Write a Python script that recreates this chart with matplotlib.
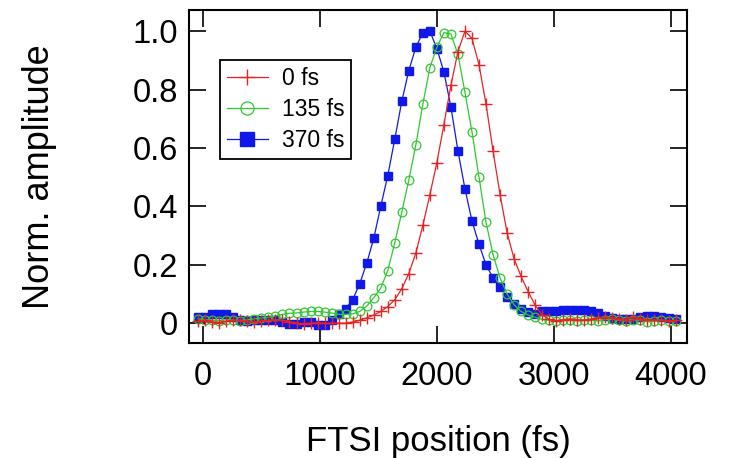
import matplotlib
matplotlib.use('Agg')
import matplotlib.pyplot as plt
from matplotlib.ticker import FixedLocator, FuncFormatter

plt.rcParams['font.family'] = ['Liberation Sans', 'DejaVu Sans']

# FTSI position (fs), sampling grid of the three traces
position = [-40, 20, 80, 140, 200, 260, 320, 380, 440, 500,
            560, 620, 680, 740, 800, 860, 920, 980, 1040, 1100,
            1160, 1220, 1280, 1340, 1400, 1460, 1520, 1580, 1640, 1700,
            1760, 1820, 1880, 1940, 2000, 2060, 2120, 2180, 2240, 2300,
            2360, 2420, 2480, 2540, 2600, 2660, 2720, 2780, 2840, 2900,
            2960, 3020, 3080, 3140, 3200, 3260, 3320, 3380, 3440, 3500,
            3560, 3620, 3680, 3740, 3800, 3860, 3920, 3980, 4040]

# normalised amplitude, delay 0 fs
amp_0fs = [0.008, 0.010, 0.005, 0.002, 0.006, 0.012, 0.010, 0.006, 0.003, 0.008,
           0.010, 0.012, 0.010, 0.005, 0.000, -0.002, 0.000, 0.002, -0.001, 0.000,
           0.000, 0.000, 0.004, 0.010, 0.018, 0.028, 0.040, 0.057, 0.080, 0.118,
           0.170, 0.240, 0.335, 0.440, 0.550, 0.680, 0.815, 0.930, 1.000, 0.975,
           0.885, 0.750, 0.590, 0.440, 0.310, 0.220, 0.160, 0.108, 0.062, 0.028,
           0.013, 0.008, 0.012, 0.015, 0.012, 0.010, 0.015, 0.018, 0.020, 0.018,
           0.015, 0.012, 0.020, 0.015, 0.012, 0.010, 0.012, 0.008, 0.010]

# delay 135 fs
amp_135fs = [0.015, 0.012, 0.010, 0.008, 0.012, 0.010, 0.008, 0.012, 0.015, 0.018,
             0.020, 0.025, 0.030, 0.034, 0.035, 0.038, 0.040, 0.040, 0.038, 0.035,
             0.030, 0.030, 0.032, 0.040, 0.058, 0.087, 0.120, 0.180, 0.275, 0.380,
             0.490, 0.610, 0.750, 0.875, 0.945, 0.995, 0.990, 0.920, 0.790, 0.655,
             0.500, 0.345, 0.235, 0.155, 0.100, 0.063, 0.040, 0.028, 0.020, 0.013,
             0.010, 0.008, 0.012, 0.010, 0.008, 0.012, 0.010, 0.008, 0.012, 0.014,
             0.010, 0.008, 0.012, 0.010, 0.005, 0.008, 0.010, 0.006, 0.008]

# delay 370 fs
amp_370fs = [0.020, 0.022, 0.030, 0.032, 0.030, 0.022, 0.012, 0.008, 0.010, 0.012,
             0.012, 0.010, 0.003, -0.004, -0.003, 0.005, 0.003, -0.006, -0.005, 0.012,
             0.033, 0.050, 0.080, 0.135, 0.205, 0.290, 0.400, 0.505, 0.630, 0.760,
             0.865, 0.945, 0.995, 1.000, 0.940, 0.860, 0.740, 0.590, 0.460, 0.350,
             0.270, 0.200, 0.155, 0.123, 0.088, 0.066, 0.048, 0.037, 0.032, 0.040,
             0.042, 0.043, 0.045, 0.045, 0.045, 0.044, 0.042, 0.035, 0.025, 0.018,
             0.015, 0.014, 0.016, 0.022, 0.025, 0.025, 0.022, 0.018, 0.015]

x_ticks = [0, 1000, 2000, 3000, 4000]
y_ticks = [0, 0.2, 0.4, 0.6, 0.8, 1.0]

fig = plt.figure(figsize=(7.35, 4.58), dpi=100)
ax = fig.add_axes([0.257, 0.251, 0.678, 0.727])

# blue first so red sits on top, legend order fixed below
l3, = ax.plot(position, amp_370fs, color='#1018e8', lw=0.9, marker='s', ms=6.3,
              mec='#1018e8', mfc='#1018e8', label='370 fs')
l2, = ax.plot(position, amp_135fs, color='#30c830', lw=0.9, marker='o', ms=6.3,
              mec='#30c830', mfc='none', mew=0.9, label='135 fs')
l1, = ax.plot(position, amp_0fs, color='#e62222', lw=0.9, marker='+', ms=8,
              mew=1.0, label='0 fs')

ax.set_xlim(-120, 4140)
ax.set_ylim(-0.068, 1.072)
ax.xaxis.set_major_locator(FixedLocator(x_ticks))
ax.yaxis.set_major_locator(FixedLocator(y_ticks))
ax.yaxis.set_major_formatter(FuncFormatter(lambda v, p: '0' if v == 0 else f'{v:.1f}'))
ax.tick_params(direction='in', top=True, right=True, length=12, width=1.2,
               labelsize=23.5, color='black')
ax.tick_params(axis='x', pad=13)
ax.tick_params(axis='y', pad=8)
for s in ax.spines.values():
    s.set_linewidth(1.5)

ax.set_xlabel('FTSI position (fs)', fontsize=25, labelpad=24)
ax.set_ylabel('Norm. amplitude', fontsize=26, labelpad=54)

leg = ax.legend(handles=[l1, l2, l3], loc='upper left', bbox_to_anchor=(0.062, 0.85),
                borderaxespad=0, fontsize=16.5, markerscale=1.5, fancybox=False,
                framealpha=1, edgecolor='black', handlelength=1.8,
                handletextpad=0.6, labelspacing=0.35, borderpad=0.3)
leg.get_frame().set_linewidth(1.3)

fig.savefig('out.png', dpi=100)
